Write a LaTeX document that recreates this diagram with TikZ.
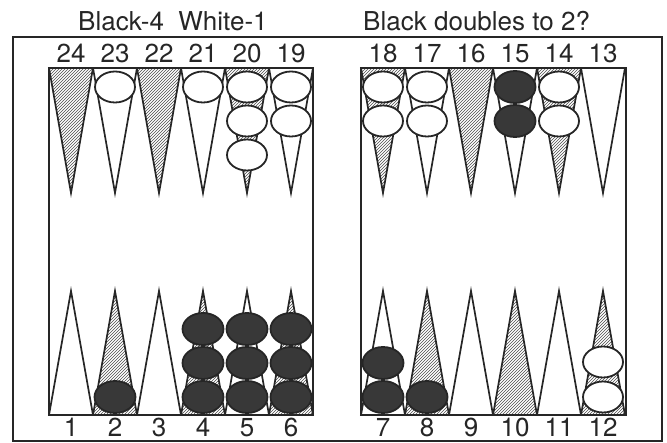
\documentclass[tikz,border=0pt]{standalone}
\usepackage{fontspec}
\setmainfont{TeX Gyre Heros}
\usepackage{tikz}
\usetikzlibrary{patterns}

\begin{document}
\begin{tikzpicture}[x=1pt,y=-1pt,line join=miter,
  frm/.style={line width=2pt,draw=black!85},
  pt/.style={line width=1.7pt,draw=black!85},
  hpt/.style={pt,pattern=north east lines,pattern color=black!70},
  wck/.style={line width=1.8pt,draw=black!85,fill=white},
  bck/.style={line width=1.8pt,draw=black!85,fill=black!78},
  lbl/.style={font=\fontsize{26}{30}\selectfont,text=black!85,anchor=base,inner sep=0pt}]
\useasboundingbox (0,0) rectangle (667,443);
% ---- titles ----
\node[lbl,anchor=base west] (ttlL) at (78,31) {Black-4\ \ White-1};
\node[lbl,anchor=base west] (ttlR) at (363,31) {Black doubles to 2?};
% ---- frames ----
\draw[frm] (13,37) rectangle (662,441);
\draw[frm] (49,68) rectangle (313,415);
\draw[frm] (361,68) rectangle (626,415);
% ---- top points (tip at y=193) ----
\foreach \xx in {71,159,247,383,471,559} {\draw[hpt] (\xx-22,68) -- (\xx,193) -- (\xx+22,68) -- cycle;}
\foreach \xx in {115,203,291,427,515,603} {\draw[pt] (\xx-22,68) -- (\xx,193) -- (\xx+22,68) -- cycle;}
% ---- bottom points (tip at y=291) ----
\foreach \xx in {115,203,291,427,515,603} {\draw[hpt] (\xx-22,415) -- (\xx,291) -- (\xx+22,415) -- cycle;}
\foreach \xx in {71,159,247,383,471,559} {\draw[pt] (\xx-22,415) -- (\xx,291) -- (\xx+22,415) -- cycle;}
% ---- point numbers ----
\foreach \xx/\nn in {71/24,115/23,159/22,203/21,247/20,291/19,383/18,427/17,471/16,515/15,559/14,603/13} {
  \node[lbl] (n\nn) at (\xx,63) {\nn};}
\foreach \xx/\nn in {71/1,115/2,159/3,203/4,247/5,291/6,383/7,427/8,471/9,515/10,559/11,603/12} {
  \node[lbl] (n\nn) at (\xx,437) {\nn};}
% ---- white checkers ----
\foreach \xx/\yy in {115/87,203/87,247/87,247/121,247/155,291/87,291/121,
                     383/87,383/121,427/87,427/121,559/87,559/121,603/397,603/362} {
  \draw[wck] (\xx,\yy) ellipse [x radius=20pt,y radius=15.5pt];}
% ---- black checkers ----
\foreach \xx/\yy in {515/87,515/121,115/397,203/397,203/363,203/329,247/397,247/363,247/329,
                     291/397,291/363,291/329,383/397,383/363,427/397} {
  \draw[bck] (\xx,\yy) ellipse [x radius=20.5pt,y radius=16pt];}
\end{tikzpicture}
\end{document}
